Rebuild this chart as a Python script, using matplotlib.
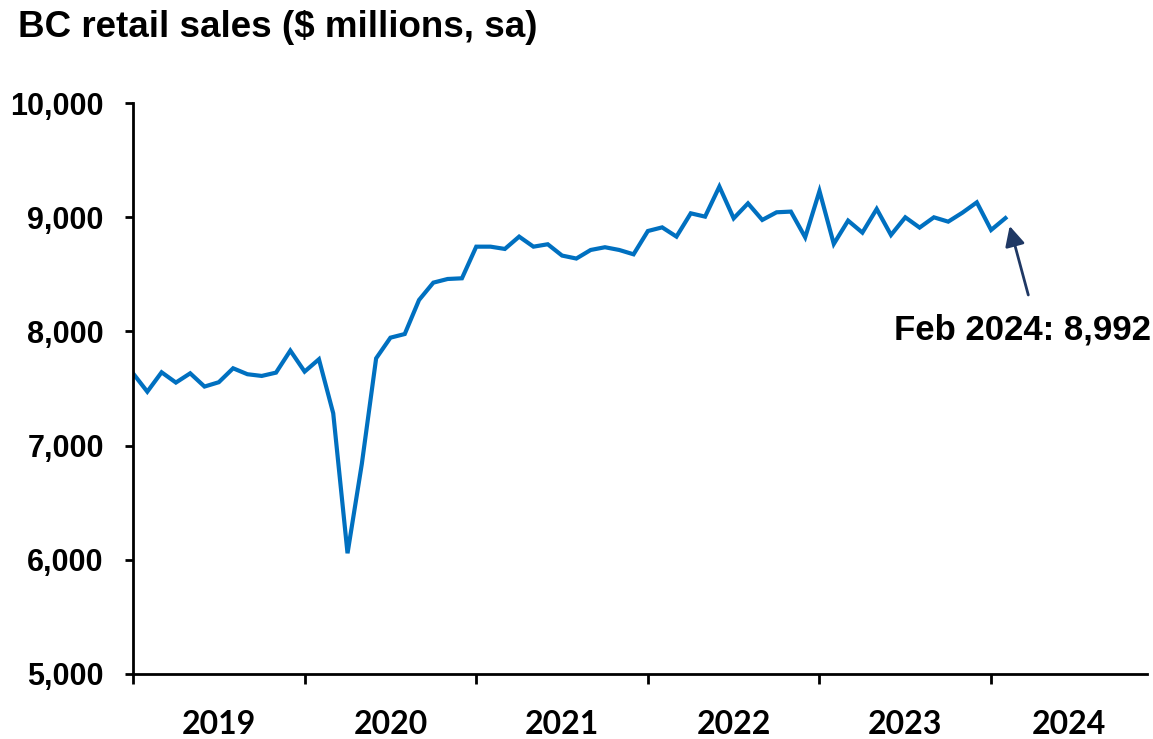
import numpy as np
import matplotlib
matplotlib.use('Agg')
from matplotlib import pyplot as plt
from matplotlib.ticker import FuncFormatter, FixedLocator

# monthly BC retail sales, Jan 2019 .. Feb 2024 ($ millions, sa)
months = np.arange(62)
sales = [7633, 7472, 7642, 7552, 7633, 7517, 7555, 7677, 7625, 7610, 7639, 7832,
         7648, 7756, 7283, 6057, 6840, 7764, 7945, 7977, 8275, 8427, 8459, 8465,
         8742, 8742, 8722, 8830, 8742, 8763, 8664, 8638, 8713, 8737, 8713, 8675,
         8879, 8911, 8830, 9034, 9005, 9268, 8990, 9121, 8976, 9043, 9049, 8824,
         9229, 8766, 8970, 8865, 9072, 8844, 8999, 8909, 8999, 8961, 9040, 9130,
         8888, 8992]
years = ['2019', '2020', '2021', '2022', '2023', '2024']
year_starts = [0, 12, 24, 36, 48, 60]
x_end = 70.9

fig = plt.figure(figsize=(11.53, 7.39), dpi=100)
ax = fig.add_axes([133/1153, 65/739, (1147-133)/1153, (674-103)/739])

ax.plot(months, sales, color='#0070C0', lw=3.0, solid_joinstyle='miter')

ax.set_xlim(0, x_end)
ax.set_ylim(5000, 10000)
ax.set_yticks(range(5000, 10001, 1000))
ax.yaxis.set_major_formatter(FuncFormatter(lambda v, p: f'{int(v):,}'))

for s in ['top', 'right']:
    ax.spines[s].set_visible(False)
for s in ['left', 'bottom']:
    ax.spines[s].set_linewidth(2)
    ax.spines[s].set_color('black')

ax.tick_params(axis='y', length=6, width=2, pad=15, labelsize=22)
for lab in ax.get_yticklabels():
    lab.set_fontfamily('Liberation Sans')
    lab.set_fontweight('bold')

# year ticks at boundaries, labels centred between them
ax.xaxis.set_major_locator(FixedLocator(year_starts))
ax.xaxis.set_major_formatter(FuncFormatter(lambda v, p: ''))
mids = [(year_starts[i] + (year_starts[i+1] if i+1 < len(year_starts) else x_end)) / 2
        for i in range(len(year_starts))]
ax.xaxis.set_minor_locator(FixedLocator(mids))
ax.set_xticklabels(years, minor=True)
ax.tick_params(axis='x', which='major', length=7, width=2)
ax.tick_params(axis='x', which='minor', length=0, pad=26, labelsize=23)
for lab in ax.get_xticklabels(minor=True):
    lab.set_fontfamily('Lato')
    lab.set_fontweight('bold')

ax.annotate('', xy=(61.3, 8923), xytext=(62.6, 8319),
            arrowprops=dict(arrowstyle='-|>', color='#1F3864', lw=2.0,
                            mutation_scale=30, shrinkA=0, shrinkB=0))
ax.text(62.2, 8012, 'Feb 2024: 8,992', ha='center', va='center',
        fontsize=25, fontweight='bold', family='Liberation Sans', clip_on=False)

fig.text(18/1153, 1 - 37/739, 'BC retail sales ($ millions, sa)', ha='left',
         va='baseline', fontsize=26.5, fontweight='bold', family='Liberation Sans')

fig.savefig('out.png', dpi=100)
